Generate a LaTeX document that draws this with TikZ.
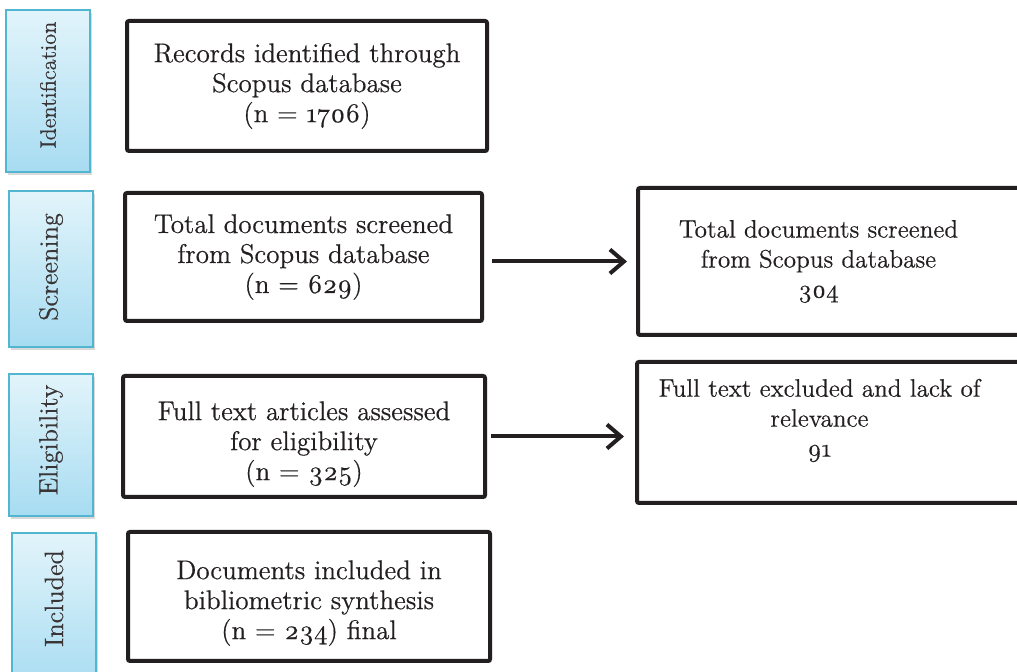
\documentclass[tikz,border=0pt]{standalone}
\usepackage{fontspec}
\setmainfont{Latin Modern Roman}[Numbers=OldStyle, FakeBold=0.5]
\usepackage{graphicx}
\usetikzlibrary{arrows.meta,shadows}

\definecolor{inkdark}{HTML}{231F20}
\definecolor{stagetop}{HTML}{E2F4FB}
\definecolor{stagebottom}{HTML}{A7DCF1}
\definecolor{stageline}{HTML}{52B6D1}

\tikzset{
  stagebox/.style={draw=stageline, line width=1pt, top color=stagetop, bottom color=stagebottom,
    drop shadow={opacity=0.3, shadow xshift=1pt, shadow yshift=-1.5pt},
    text=inkdark!90, inner sep=0pt, font=\fontsize{13.2}{14}\selectfont},
  flowbox/.style={draw=inkdark, line width=2pt, rounded corners=1pt, fill=white,
    drop shadow={opacity=0.2, shadow xshift=1pt, shadow yshift=-1pt},
    align=center, text=inkdark, inner sep=0pt, font=\fontsize{13.5}{15}\selectfont},
  boxtext/.style={align=center, text=inkdark, font=\fontsize{12.6}{15}\selectfont},
  flowarrow/.style={draw=inkdark, line width=2pt, -{Straight Barb[length=7pt,width=12pt]}}
}

\begin{document}
\begin{tikzpicture}[x=0.5pt, y=-0.5pt]

% Frame of the picture (pixels of the reference)
\useasboundingbox (0,0) rectangle (1017,672);
\clip (0,0) rectangle (1017,672);

% Stage labels on the left
\node[stagebox, minimum width=42pt, minimum height=81pt, font=\fontsize{11.2}{13}\selectfont] (ident) at (48,91) {\rotatebox{90}{\hspace*{6pt}Identification}};
\node[stagebox, minimum width=42pt, minimum height=78pt] (screen) at (51,269) {\rotatebox{90}{\hspace*{2pt}Screening}};
\node[stagebox, minimum width=42pt, minimum height=71pt] (eligib) at (51,445) {\rotatebox{90}{\hspace*{5pt}Eligibility}};
\node[stagebox, minimum width=42pt, minimum height=78.5pt] (includ) at (54,611.5) {\rotatebox{90}{\hspace*{13pt}Included}};

% Main column
\node[flowbox, minimum width=180pt, minimum height=65pt] (recs) at (307,86)
  {Records identified through\\Scopus database\\(n = 1706)};
\node[flowbox, minimum width=178.5pt, minimum height=64pt] (scr) at (303.5,257)
  {Total documents screened\\from Scopus database\\(n = 629)};
\node[flowbox, minimum width=181pt, minimum height=60.5pt] (elig) at (304,436.5)
  {\rule{0pt}{17pt}Full text articles assessed\\for eligibility\\(n = 325)};
\node[flowbox, minimum width=181pt, minimum height=64.5pt] (incl) at (309,596.5)
  {\rule{0pt}{16pt}Documents included in\\bibliometric synthesis\\(n = 234) final};

% Exclusion boxes, cut by the right edge
\node[flowbox, anchor=west, minimum width=200.5pt, minimum height=73.5pt,
  label={[boxtext, xshift=-10pt]center:Total documents screened\\from Scopus database\\304}] (excl1) at (636,261.5) {};
\node[flowbox, anchor=west, minimum width=202pt, minimum height=70.5pt,
  label={[boxtext, xshift=-9.75pt, yshift=6pt]center:Full text excluded and lack of\\relevance\\91}] (excl2) at (635,432.5) {};

% Arrows
\draw[flowarrow, shorten <=4pt, shorten >=4.5pt] (scr.east |- excl1.west) -- (excl1.west);
\draw[flowarrow, shorten <=2pt, shorten >=5.5pt] (elig.east) -- (elig.east -| excl2.west);

\end{tikzpicture}
\end{document}
